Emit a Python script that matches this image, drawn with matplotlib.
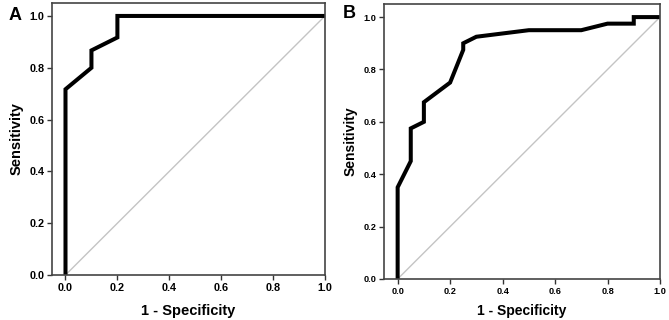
import matplotlib
matplotlib.use("Agg")
import matplotlib.pyplot as plt

plt.rcParams['font.family'] = ['Liberation Sans', 'DejaVu Sans']

# Panel A ROC
a_fpr = [0.0, 0.0, 0.1, 0.1, 0.2, 0.2, 1.0]
a_tpr = [0.0, 0.717, 0.80, 0.867, 0.917, 1.0, 1.0]

# Panel B ROC
b_fpr = [0.0, 0.0, 0.05, 0.05, 0.1, 0.1, 0.2, 0.25, 0.25, 0.3, 0.5, 0.7, 0.8, 0.9, 0.9, 1.0]
b_tpr = [0.0, 0.35, 0.45, 0.575, 0.60, 0.675, 0.75, 0.875, 0.90, 0.925, 0.95, 0.95, 0.975, 0.975, 1.0, 1.0]

ticks = [0.0, 0.2, 0.4, 0.6, 0.8, 1.0]
tick_labels = ["0.0", "0.2", "0.4", "0.6", "0.8", "1.0"]

W, H = 669, 320
fig = plt.figure(figsize=(W / 100, H / 100), dpi=100)

def make_ax(l, r, t, b):
    return fig.add_axes([l / W, (H - b) / H, (r - l) / W, (b - t) / H])

axA = make_ax(52, 325, 3, 275)
axB = make_ax(384, 660, 4, 279)

for ax, fpr, tpr, fs, lfs, lp in [(axA, a_fpr, a_tpr, 7.8, 10.5, 8), (axB, b_fpr, b_tpr, 6.6, 10, 6)]:
    ax.plot([0, 1], [0, 1], color="#c4c4c4", lw=1.0, zorder=1)
    ax.plot(fpr, tpr, color="black", lw=2.9, solid_joinstyle="miter", zorder=2)
    ax.set_xlim(-0.052, 1.0)
    ax.set_ylim(0.0, 1.05)
    ax.set_xticks(ticks)
    ax.set_xticklabels(tick_labels, fontweight="bold", fontsize=fs)
    ax.set_yticks(ticks)
    ax.set_yticklabels(tick_labels, fontweight="bold", fontsize=fs)
    ax.tick_params(direction="out", length=3.5, width=1.0, color="#333333", pad=2)
    for s in ax.spines.values():
        s.set_color("#444444")
        s.set_linewidth(1.2)
    ax.set_xlabel("1 - Specificity", fontweight="bold", fontsize=lfs, labelpad=lp)
    ax.set_ylabel("Sensitivity", fontweight="bold", fontsize=lfs, labelpad=4)

fig.text(9 / W, 1 - 15 / H, "A", fontweight="bold", fontsize=13, va="center", ha="left")
fig.text(343 / W, 1 - 14 / H, "B", fontweight="bold", fontsize=13, va="center", ha="left")

fig.savefig("out.png", dpi=100)
